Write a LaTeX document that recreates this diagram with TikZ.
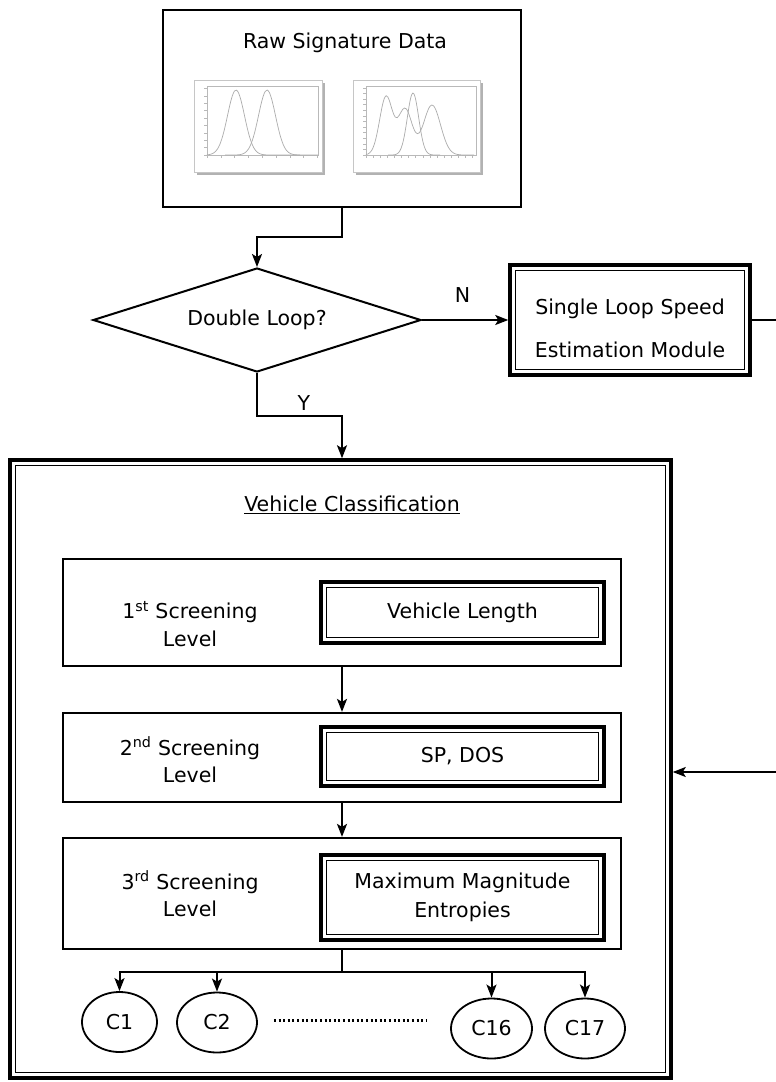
\documentclass[tikz,border=0pt]{standalone}
\usepackage{fontspec}
\setmainfont{DejaVu Sans}
\usepackage{tikz}
\usetikzlibrary{shapes.geometric, arrows.meta, positioning, calc}

\begin{document}
\begin{tikzpicture}[
  x=1pt, y=-1pt,
  font=\fontsize{20.5}{27.5}\selectfont,
  txt/.style={inner sep=0pt, align=center},
  lvlbox/.style={draw, line width=2.2pt, fill=white, minimum width=558pt, minimum height=#1},
  dblbox/.style={draw, line width=3.5pt, fill=white, inner sep=0pt,
                 path picture={\draw[line width=1.3pt]
                   ([shift={(5.5pt,-5.5pt)}]path picture bounding box.north west) rectangle
                   ([shift={(-5.5pt,5.5pt)}]path picture bounding box.south east);}},
  cls/.style={draw, ellipse, line width=1.8pt, minimum width=#1, minimum height=60pt, inner sep=0pt},
  arr/.style={-{Stealth[length=13pt,width=10pt,inset=3pt]}, line width=2pt},
  link/.style={line width=2pt},
  frame/.style={fill=white, draw=gray!45, line width=0.8pt},
  shade/.style={fill=gray!60, draw=none},
  curve/.style={gray!65, line width=0.7pt},
  tick/.style={gray!55, line width=0.5pt},
]
\useasboundingbox (0,0) rectangle (776,1082);

% Raw data
\node[draw, line width=2.2pt, minimum width=358pt, minimum height=197pt] (RAW) at (342,108.5) {};
\node[txt] (RAWT) at (345,43) {Raw Signature Data};

% left plot
\fill[shade] (197,83) rectangle (325,175);
\draw[frame] (194,80) rectangle (322,172);
\draw[tick] (207,86) rectangle (318,155);
\foreach \t in {0,...,8} { \draw[tick] (207+\t*13.8,155) -- ++(0,3); }
\foreach \t in {0,...,9} { \draw[tick] (207,155-\t*7.4) -- ++(-3,0); }
\draw[curve] plot[smooth, samples=45, domain=207:300] (\x, {155-65*exp(-((\x-236)/12)^2)});
\draw[curve] plot[smooth, samples=45, domain=225:318] (\x, {155-65*exp(-((\x-267)/12)^2)});

% right plot
\fill[shade] (356,83) rectangle (483,175);
\draw[frame] (353,80) rectangle (480,172);
\draw[tick] (366,86) rectangle (476,155);
\foreach \t in {0,...,15} { \draw[tick] (366+\t*7.1,155) -- ++(0,3); }
\foreach \t in {0,...,12} { \draw[tick] (366,155-\t*5.6) -- ++(-3,0); }
\draw[curve] plot[smooth, samples=60, domain=366:474]
  (\x, {155-58*exp(-((\x-386)/9)^2)-46*exp(-((\x-405)/10)^2)-50*exp(-((\x-432)/12)^2)});
\draw[curve] plot[smooth, samples=45, domain=388:440] (\x, {155-62*exp(-((\x-413)/8)^2)});

% Decision
\node[draw, diamond, line width=2pt, aspect=3.15, minimum width=328pt, minimum height=104pt,
      inner sep=0pt] (DL) at (257,320) {Double Loop?};

% Single loop module
\node[dblbox, minimum width=240pt, minimum height=110pt] (SL) at (630,320) {};
\node[txt, font=\fontsize{20.5}{43}\selectfont] (SLT) at (630,328) {Single Loop Speed\\Estimation Module};

% Vehicle classification
\node[dblbox, minimum width=661pt, minimum height=618pt] (VC) at (340.5,769) {};
\node[txt] (VCT) at (352,505) {\underline{Vehicle Classification}};

\node[lvlbox=107pt] (S1) at (342,612.5) {};
\node[lvlbox=89pt] (S2) at (342,757.5) {};
\node[lvlbox=111pt] (S3) at (342,893.5) {};

\node[txt] (S1T) at (190,624) {1\textsuperscript{st} Screening\\Level};
\node[txt] (S2T) at (190,760) {2\textsuperscript{nd} Screening\\Level};
\node[txt] (S3T) at (190,894) {3\textsuperscript{rd} Screening\\Level};

\node[dblbox, minimum width=283pt, minimum height=61pt] (VL) at (462.5,612.5) {Vehicle Length};
\node[dblbox, minimum width=283pt, minimum height=59pt] (SD) at (462.5,756.5) {SP, DOS};
\node[dblbox, minimum width=283pt, minimum height=85pt, align=center,
      font=\fontsize{20.5}{29.5}\selectfont] (ME) at (462.5,897.5) {Maximum Magnitude\\Entropies};

% Classes
\node[cls=75pt] (C1) at (119.5,1022) {C1};
\node[cls=80pt] (C2) at (217,1022.5) {C2};
\node[cls=81pt] (C16) at (491.5,1028.5) {C16};
\node[cls=80pt] (C17) at (585,1028.5) {C17};
\coordinate (dA) at ([shift={(16pt,2pt)}]C2.east);
\draw[line width=2.5pt, dash pattern=on 2pt off 2.6pt] (dA) -- ([xshift=-24pt]dA -| C16.west);

% Arrows
\draw[arr] (RAW.south) -- ++(0,29) -| (DL.north);
\draw[arr] (DL.east) -- (SL.west) node[txt, pos=0.47, above=17pt] (N) {N};
\draw[arr] (DL.south) -- ++(0,43) coordinate (yb) -| (VC.north -| S1.north);
\node[txt] (Y) at (304,403) {Y};
\coordinate (SLout) at (776,320);
\draw[link] (SL.east) -- (SLout);
\coordinate (VCin) at (776,772);
\draw[arr] (VCin) -- (VCin -| VC.east);
\draw[arr] (S1.south) -- (S2.north);
\draw[arr] (S2.south) -- (S3.north);
\draw[link] (S3.south) -- ++(0,22) coordinate (br);
\foreach \c in {C1,C2,C16,C17} { \draw[arr] (br) -| (\c.north); }

\end{tikzpicture}
\end{document}
